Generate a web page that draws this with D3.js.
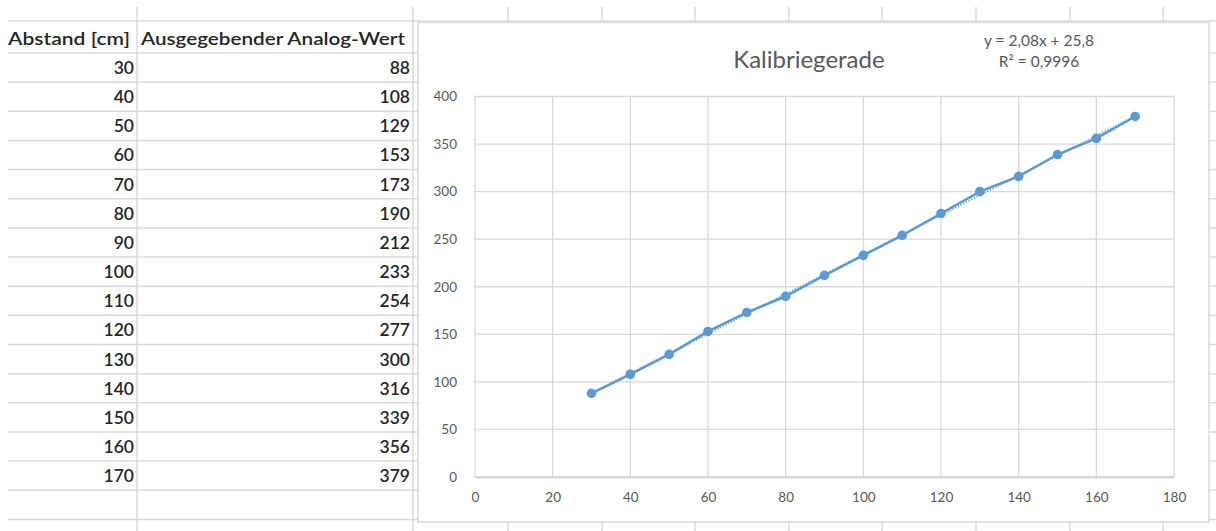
<!DOCTYPE html>
<html><head><meta charset="utf-8">
<script src="https://cdn.jsdelivr.net/npm/d3@7"></script>
<style>html,body{margin:0;padding:0;background:#fff;}svg{display:block;}</style>
</head><body>
<script>
const distances = [30,40,50,60,70,80,90,100,110,120,130,140,150,160,170];
const analogValues = [88,108,129,153,173,190,212,233,254,277,300,316,339,356,379];
const headers = ["Abstand [cm]", "Ausgegebender Analog-Wert"];
const xTicks = [0,20,40,60,80,100,120,140,160,180];
const yTicks = [0,50,100,150,200,250,300,350,400];
const chartTitle = "Kalibriegerade";
const trendSlope = 2.08, trendIntercept = 25.8;
const equationLines = ["y = 2,08x + 25,8", "R² = 0,9996"];

const W = 1216, H = 531;
const font = "Lato, 'Open Sans', sans-serif";
const svg = d3.select("body").append("svg").attr("width", W).attr("height", H);

// spreadsheet grid
const gridColor = "#dadada";
const colLines = [137, 413, 508, 602, 695, 789, 882, 976, 1070, 1163];
const rowLines = [21].concat(d3.range(0, 17).map(k => 53 + 29.15 * k));
svg.append("g").selectAll("line").data(rowLines).join("line")
  .attr("x1", 8).attr("x2", W).attr("y1", d => d).attr("y2", d => d)
  .attr("stroke", gridColor).attr("stroke-width", 1.5);
svg.append("g").selectAll("line").data(colLines).join("line")
  .attr("x1", d => d).attr("x2", d => d).attr("y1", 7).attr("y2", H)
  .attr("stroke", gridColor).attr("stroke-width", 1.5);

// table text
const tText = "#262626";
const tg = svg.append("g").attr("font-family", font).attr("font-size", 17.5).attr("fill", tText).attr("font-weight", 600);
tg.append("text").attr("x", 8).attr("y", 38).attr("dominant-baseline", "central")
  .attr("textLength", 122).attr("lengthAdjust", "spacingAndGlyphs").text(headers[0]);
tg.append("text").attr("x", 141).attr("y", 38).attr("dominant-baseline", "central")
  .attr("textLength", 264).attr("lengthAdjust", "spacingAndGlyphs").text(headers[1]);
const rowY = i => 67.5 + 29.15 * i;
tg.selectAll("text.a").data(distances).join("text").attr("class", "a")
  .attr("x", 134).attr("y", (d, i) => rowY(i)).attr("text-anchor", "end").attr("dominant-baseline", "central").text(d => d);
tg.selectAll("text.b").data(analogValues).join("text").attr("class", "b")
  .attr("x", 410).attr("y", (d, i) => rowY(i)).attr("text-anchor", "end").attr("dominant-baseline", "central").text(d => d);

// chart box
svg.append("rect").attr("x", 418).attr("y", 22.5).attr("width", 791).attr("height", 499.5)
  .attr("fill", "#fff").attr("stroke", "#d9d9d9").attr("stroke-width", 1.5);

const x = d3.scaleLinear().domain([0, 180]).range([475, 1174]);
const y = d3.scaleLinear().domain([0, 400]).range([477, 96.5]);

// gridlines
const g = svg.append("g");
g.selectAll("line.v").data(xTicks).join("line").attr("class", "v")
  .attr("x1", d => x(d)).attr("x2", d => x(d)).attr("y1", y(0)).attr("y2", y(400))
  .attr("stroke", "#d9d9d9").attr("stroke-width", 1.3);
g.selectAll("line.h").data(yTicks).join("line").attr("class", "h")
  .attr("x1", x(0)).attr("x2", x(180)).attr("y1", d => y(d)).attr("y2", d => y(d))
  .attr("stroke", "#d9d9d9").attr("stroke-width", 1.3);

// axes labels via d3 axes
const axisColor = "#595959";
const xAxis = svg.append("g").attr("transform", `translate(0,${y(0)})`)
  .call(d3.axisBottom(x).tickValues(xTicks).tickSize(0).tickPadding(15).tickFormat(d3.format("d")));
xAxis.select(".domain").attr("stroke", "#d0d0d0").attr("stroke-width", 1.5);
xAxis.selectAll("text").attr("font-family", font).attr("font-size", 13.5).attr("fill", axisColor);
const yAxis = svg.append("g").attr("transform", `translate(${x(0)},0)`)
  .call(d3.axisLeft(y).tickValues(yTicks).tickSize(0).tickPadding(18).tickFormat(d3.format("d")));
yAxis.select(".domain").remove();
yAxis.selectAll("text").attr("font-family", font).attr("font-size", 13.5).attr("fill", axisColor);

// series
const blue = "#5b9bd5";
const pts = distances.map((d, i) => [d, analogValues[i]]);
svg.append("path").datum(pts)
  .attr("d", d3.line().x(d => x(d[0])).y(d => y(d[1])))
  .attr("fill", "none").attr("stroke", blue).attr("stroke-width", 2.5);
// trendline (dotted)
const tx = d3.extent(distances);
svg.append("path").datum(tx.map(v => [v, trendSlope * v + trendIntercept]))
  .attr("d", d3.line().x(d => x(d[0])).y(d => y(d[1])))
  .attr("fill", "none").attr("stroke", blue).attr("stroke-width", 2).attr("stroke-dasharray", "1.5,1.5").attr("opacity", 0.8);
svg.append("g").selectAll("circle").data(pts).join("circle")
  .attr("cx", d => x(d[0])).attr("cy", d => y(d[1])).attr("r", 4.8).attr("fill", blue);

// title & equation
svg.append("text").attr("x", 809).attr("y", 58).attr("text-anchor", "middle").attr("dominant-baseline", "central")
  .attr("font-family", font).attr("font-size", 24).attr("fill", axisColor).text(chartTitle);
svg.append("g").selectAll("text").data(equationLines).join("text")
  .attr("x", 1039).attr("y", (d, i) => 40 + 21 * i).attr("text-anchor", "middle").attr("dominant-baseline", "central")
  .attr("font-family", font).attr("font-size", 15.5).attr("fill", axisColor).text(d => d);
</script>
</body></html>
